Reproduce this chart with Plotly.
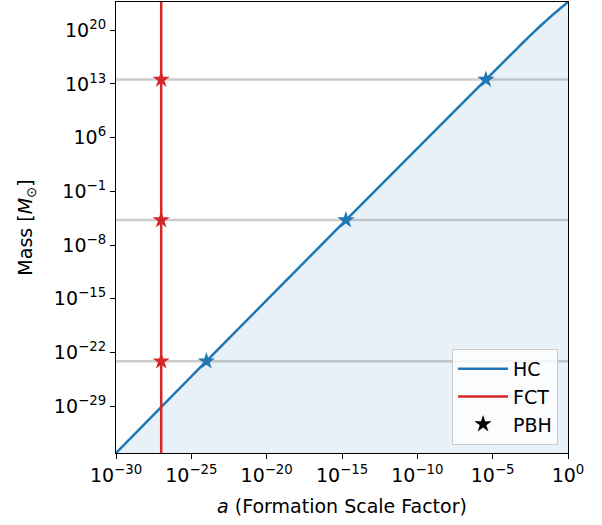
import plotly.graph_objects as go

# Horizon-crossing (HC) curve (log10 values)
hc_log_a = [-30, -24, -14.74, -5.45, -3.5, -3, -2.5, -2, -1.5, -1, -0.5, 0]
hc_log_m = [-35.1, -23.14, -4.75, 13.56, 17.38, 18.36, 19.32, 20.25, 21.15, 22.02, 22.86, 23.67]

# Formation time (FCT) scale factor
fct_a = 1e-27

# PBH masses (Msun) and their horizon-crossing scale factors
pbh_mass = [10.0**13.56, 10.0**-4.75, 10.0**-23.14]
pbh_a_hc = [10.0**-5.45, 10.0**-14.74, 10.0**-24.0]

x_min, x_max = 1e-30, 1.0
y_min, y_max = 10.0**-35.1, 10.0**23.67

y_tick_exps = [20, 13, 6, -1, -8, -15, -22, -29]
x_tick_exps = [-30, -25, -20, -15, -10, -5, 0]

def sup(e):
    s = str(e).replace("-", "\u2212")
    return "10<sup>" + s + "</sup>"

hc_a = [10.0**v for v in hc_log_a]
hc_m = [10.0**v for v in hc_log_m]

BLUE = "#1f77b4"
RED = "#d62728"
GRAY = "rgba(128,128,128,0.4)"

fig = go.Figure()

# fill below HC
fig.add_trace(go.Scatter(
    x=hc_a + [x_max, x_min], y=hc_m + [y_min, y_min],
    fill="toself", fillcolor="rgba(31,119,180,0.1)",
    line=dict(width=0), mode="lines", showlegend=False, hoverinfo="skip"))

# gray horizontal lines at PBH masses
for m in pbh_mass:
    fig.add_trace(go.Scatter(x=[x_min, x_max], y=[m, m], mode="lines",
                             line=dict(color=GRAY, width=2.5), showlegend=False))

# HC line
fig.add_trace(go.Scatter(x=hc_a, y=hc_m, mode="lines", name="HC",
                         line=dict(color=BLUE, width=2.5, shape="spline", smoothing=0.6)))
# FCT line
fig.add_trace(go.Scatter(x=[fct_a, fct_a], y=[y_min, y_max], mode="lines", name="FCT",
                         line=dict(color=RED, width=2.5)))

# stars
fig.add_trace(go.Scatter(x=[fct_a] * len(pbh_mass), y=pbh_mass, mode="markers",
                         marker=dict(symbol="star", size=13, color=RED),
                         showlegend=False))
fig.add_trace(go.Scatter(x=pbh_a_hc, y=pbh_mass, mode="markers",
                         marker=dict(symbol="star", size=13, color=BLUE),
                         showlegend=False))
# legend entry for PBH
fig.add_trace(go.Scatter(x=[None], y=[None], mode="markers", name="PBH",
                         marker=dict(symbol="star", size=13, color="black")))

axis_common = dict(
    type="log", showgrid=False, zeroline=False, showline=True, linecolor="black",
    linewidth=1.2, mirror=True, ticks="outside", ticklen=5, tickwidth=1.2,
    tickcolor="black", tickfont=dict(size=19, color="black"),
)

fig.update_xaxes(**axis_common,
                 range=[-30, 0],
                 tickvals=[10.0**e for e in x_tick_exps],
                 ticktext=[sup(e) for e in x_tick_exps],
                 title=dict(text="<i>a</i> (Formation Scale Factor)",
                            font=dict(size=19, color="black"), standoff=14))
fig.update_yaxes(**axis_common,
                 range=[-35.1, 23.67],
                 tickvals=[10.0**e for e in y_tick_exps],
                 ticktext=[sup(e) for e in y_tick_exps],
                 title=dict(text="Mass [<i>M</i><sub>\u2299</sub>]",
                            font=dict(size=19, color="black"), standoff=16))

fig.update_layout(
    width=602, height=525,
    margin=dict(l=116, r=34, t=2, b=72),
    plot_bgcolor="white", paper_bgcolor="white",
    font=dict(family="DejaVu Sans", color="black"),
    legend=dict(x=0.978, y=0.018, xanchor="right", yanchor="bottom",
                bgcolor="rgba(255,255,255,0.8)", bordercolor="#cccccc",
                borderwidth=1, font=dict(size=19), itemwidth=50),
)

fig.write_html("out.html")
